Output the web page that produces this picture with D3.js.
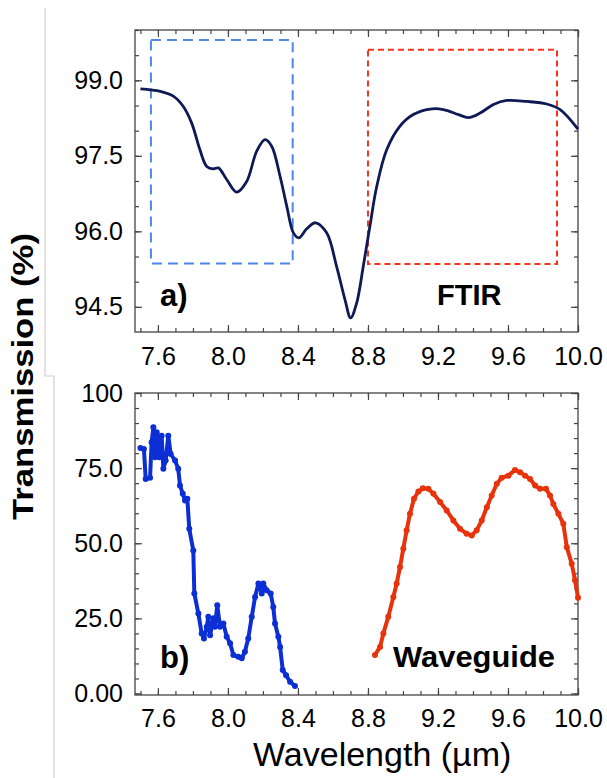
<!DOCTYPE html>
<html lang="en">
<meta charset="utf-8">
<head>
<style>
  body { margin: 0; background: #fff; }
  text { font-family: "Liberation Sans", Arial, sans-serif; fill: #000; }
</style>
</head>
<body>
<div id="chart"></div>
<script src="https://d3js.org/d3.v7.min.js"></script>
<script>
// FTIR spectrum (panel a), wavelength in um / transmission in %
const ftirX = [7.5, 7.614, 7.69, 7.745, 7.793, 7.84, 7.879, 7.917, 7.945, 7.993, 8.05, 8.107, 8.164, 8.212, 8.25,
  8.298, 8.336, 8.374, 8.405, 8.45, 8.5, 8.564, 8.621, 8.669, 8.701, 8.735, 8.773, 8.811, 8.85, 8.907, 8.983,
  9.059, 9.155, 9.231, 9.317, 9.374, 9.441, 9.517, 9.593, 9.707, 9.821, 9.898, 10.0];
const ftirY = [98.83, 98.78, 98.68, 98.48, 98.15, 97.62, 97.29, 97.24, 97.26, 97.03, 96.78, 96.99, 97.59, 97.82, 97.69,
  97.09, 96.5, 95.97, 95.87, 96.05, 96.17, 95.97, 95.3, 94.64, 94.28, 94.57, 95.3, 96.1, 96.89, 97.62, 98.09,
  98.32, 98.43, 98.42, 98.32, 98.26, 98.35, 98.52, 98.6, 98.58, 98.53, 98.42, 98.03];

// waveguide measurement (panel b), two bands
const blueX = [7.5, 7.52, 7.53, 7.555, 7.564, 7.574, 7.583, 7.593, 7.608, 7.621, 7.631, 7.644, 7.659, 7.673, 7.698,
  7.716, 7.726, 7.742, 7.755, 7.768, 7.779, 7.802, 7.808, 7.831, 7.85, 7.863, 7.879, 7.888, 7.898, 7.917, 7.926,
  7.939, 7.955, 7.974, 7.993, 8.012, 8.031, 8.059, 8.079, 8.097, 8.116, 8.136, 8.155, 8.174, 8.193, 8.202, 8.221,
  8.244, 8.259, 8.269, 8.288, 8.298, 8.313, 8.332, 8.355, 8.383];
const blueY = [81.7, 81.4, 71.4, 71.8, 83.6, 88.6, 78.6, 86.9, 78.6, 85.8, 74.8, 77.5, 85.8, 79.7, 77.5,
  74.8, 69.2, 66.5, 64.2, 64.8, 54.8, 47.6, 33.3, 26.6, 20.0, 18.3, 22.2, 25.5, 19.4, 25.0, 22.2,
  29.4, 22.2, 23.3, 18.9, 16.7, 12.8, 12.2, 11.7, 13.9, 18.3, 25.5, 32.1, 36.6, 33.3, 36.6, 34.4,
  33.3, 28.8, 23.3, 18.9, 15.5, 7.8, 6.1, 3.9, 2.5];

const redX = [8.84, 8.869, 8.888, 8.916, 8.945, 8.964, 8.983, 9.002, 9.021, 9.04, 9.063, 9.088, 9.113, 9.145, 9.174,
  9.212, 9.25, 9.288, 9.326, 9.364, 9.393, 9.421, 9.45, 9.479, 9.507, 9.536, 9.564, 9.602, 9.64, 9.669, 9.698,
  9.726, 9.755, 9.783, 9.817, 9.84, 9.859, 9.888, 9.916, 9.936, 9.964, 9.983, 10.0];
const redY = [12.8, 15.5, 20.0, 25.5, 32.1, 36.6, 42.1, 48.2, 54.3, 59.8, 64.8, 67.2, 68.3, 68.1, 66.5,
  63.7, 60.9, 57.6, 54.8, 53.2, 52.6, 54.3, 57.6, 62.0, 65.9, 69.8, 71.8, 72.5, 74.4, 73.6, 72.5,
  71.4, 69.2, 68.1, 68.1, 65.9, 63.1, 59.8, 56.5, 48.7, 43.2, 37.7, 31.9];

// tick labels
const xTicks = [7.6, 8.0, 8.4, 8.8, 9.2, 9.6, 10.0];
const xLabels = ["7.6", "8.0", "8.4", "8.8", "9.2", "9.6", "10.0"];
const topTicks = [94.5, 96.0, 97.5, 99.0];
const topLabels = ["94.5", "96.0", "97.5", "99.0"];
const botTicks = [0, 25, 50, 75, 100];
const botLabels = ["0.00", "25.0", "50.0", "75.0", "100"];

// highlighted windows in panel a: [x0, x1, y0, y1]
const blueBox = [7.56, 8.37, 95.36, 99.8];
const redBox = [8.80, 9.88, 95.35, 99.61];

const W = 607, H = 778;
const svg = d3.select("#chart").append("svg")
  .attr("width", W).attr("height", H);

// gray margin line left of the figure
svg.append("path")
  .attr("d", "M45,8V376H54V778")
  .attr("fill", "none").attr("stroke", "#d0d0d0").attr("stroke-width", 1.2);

const x = d3.scaleLinear().domain([7.469, 10.0]).range([135, 578]);
const yTop = d3.scaleLinear().domain([94, 100]).range([332, 30]);
const yBot = d3.scaleLinear().domain([-0.5, 100]).range([695, 393]);

const minorX = d3.range(75, 101).map(d => d / 10);

function frame(y, majorY, labelsY, minorY, labelPad) {
  const g = svg.append("g");
  const [y0, y1] = y.range();
  const fmtX = d => xLabels[xTicks.indexOf(d)];
  const fmtY = d => labelsY[majorY.indexOf(d)];

  // bottom
  g.append("g").attr("transform", `translate(0,${y0})`)
    .call(d3.axisBottom(x).tickValues(minorX).tickSize(-4).tickFormat(""));
  g.append("g").attr("class", "lab").attr("transform", `translate(0,${y0})`)
    .call(d3.axisBottom(x).tickValues(xTicks).tickSize(-7).tickPadding(labelPad).tickFormat(fmtX));
  // top
  g.append("g").attr("transform", `translate(0,${y1})`)
    .call(d3.axisTop(x).tickValues(minorX).tickSize(-4).tickFormat(""));
  g.append("g").attr("transform", `translate(0,${y1})`)
    .call(d3.axisTop(x).tickValues(xTicks).tickSize(-7).tickFormat(""));
  // left
  g.append("g").attr("transform", `translate(${x.range()[0]},0)`)
    .call(d3.axisLeft(y).tickValues(minorY).tickSize(-4).tickFormat(""));
  g.append("g").attr("class", "lab").attr("transform", `translate(${x.range()[0]},0)`)
    .call(d3.axisLeft(y).tickValues(majorY).tickSize(-7).tickPadding(12).tickFormat(fmtY));
  // right
  g.append("g").attr("transform", `translate(${x.range()[1]},0)`)
    .call(d3.axisRight(y).tickValues(minorY).tickSize(-4).tickFormat(""));
  g.append("g").attr("transform", `translate(${x.range()[1]},0)`)
    .call(d3.axisRight(y).tickValues(majorY).tickSize(-7).tickFormat(""));

  g.selectAll(".domain").remove();
  g.selectAll(".tick line").attr("stroke", "#444").attr("stroke-width", 1.2);
  g.selectAll(".lab text").attr("font-size", 25).attr("fill", "#000")
    .attr("font-family", "'Liberation Sans', Arial, sans-serif");

  g.append("rect")
    .attr("x", x.range()[0]).attr("y", y1)
    .attr("width", x.range()[1] - x.range()[0]).attr("height", y0 - y1)
    .attr("fill", "none").attr("stroke", "#444").attr("stroke-width", 1.3);
  return g;
}

// ---- panel a
frame(yTop, topTicks, topLabels, d3.range(945, 1001, 5).map(d => d / 10), 15);

function box(b, color, dash) {
  svg.append("rect")
    .attr("x", x(b[0])).attr("y", yTop(b[3]))
    .attr("width", x(b[1]) - x(b[0])).attr("height", yTop(b[2]) - yTop(b[3]))
    .attr("fill", "none").attr("stroke", color).attr("stroke-width", 2)
    .attr("stroke-dasharray", dash);
}
box(blueBox, "#4f86ec", "10,6");
box(redBox, "#f5341c", "6,4");

const ftir = ftirX.map((d, i) => [d, ftirY[i]]);
svg.append("path")
  .datum(ftir)
  .attr("fill", "none").attr("stroke", "#0f1a55").attr("stroke-width", 2.8)
  .attr("d", d3.line().x(d => x(d[0])).y(d => yTop(d[1])).curve(d3.curveCatmullRom));

svg.append("text").attr("x", 160).attr("y", 306)
  .attr("font-size", 31).attr("font-weight", "bold").text("a)");
svg.append("text").attr("x", 437).attr("y", 305)
  .attr("font-size", 29).attr("font-weight", "bold").text("FTIR");

// ---- panel b
frame(yBot, botTicks, botLabels, d3.range(0, 101, 5), 14);

function series(xs, ys, color) {
  const pts = xs.map((d, i) => [d, ys[i]]);
  const g = svg.append("g");
  g.append("path").datum(pts)
    .attr("fill", "none").attr("stroke", color).attr("stroke-width", 4)
    .attr("stroke-linejoin", "round")
    .attr("d", d3.line().x(d => x(d[0])).y(d => yBot(d[1])));
  g.selectAll("circle").data(pts).join("circle")
    .attr("cx", d => x(d[0])).attr("cy", d => yBot(d[1])).attr("r", 3)
    .attr("fill", color);
}
series(blueX, blueY, "#0b2fd4");
series(redX, redY, "#e8320c");

svg.append("text").attr("x", 160).attr("y", 668)
  .attr("font-size", 31).attr("font-weight", "bold").text("b)");
svg.append("text").attr("x", 393).attr("y", 667)
  .attr("font-size", 29).attr("font-weight", "bold")
  .attr("textLength", 162).attr("lengthAdjust", "spacingAndGlyphs").text("Waveguide");

// axis titles
svg.append("text").attr("x", 253).attr("y", 766)
  .attr("font-size", 34).text("Wavelength (µm)");
svg.append("text")
  .attr("transform", "translate(33,376.5) rotate(-90)")
  .attr("text-anchor", "middle").attr("font-size", 29).attr("font-weight", "bold")
  .attr("textLength", 287).attr("lengthAdjust", "spacingAndGlyphs")
  .text("Transmission (%)");
</script>
</body>
</html>
